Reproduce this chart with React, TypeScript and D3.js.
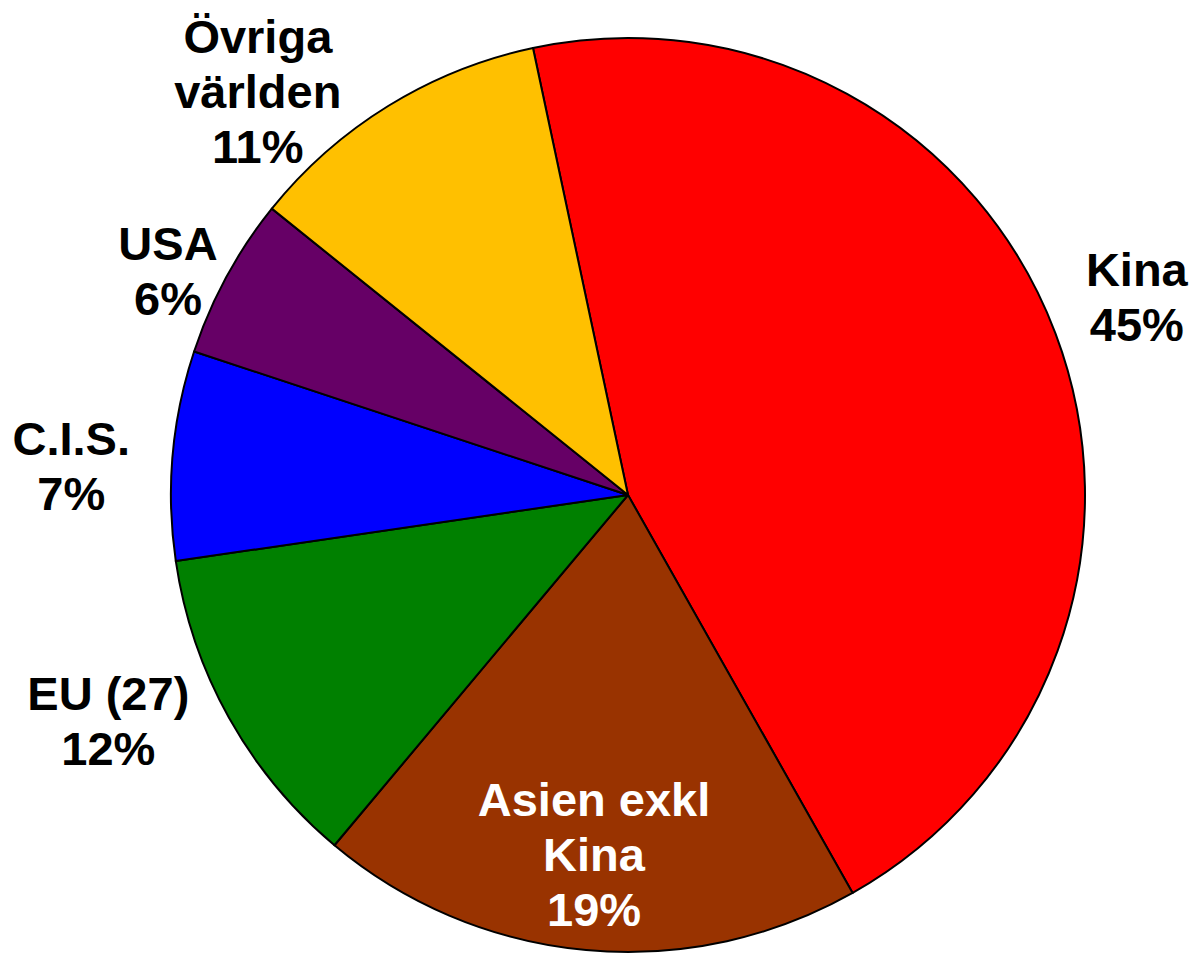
import { useEffect, useRef } from "react";
import * as d3 from "d3";

// Andelar (uppskattade från bilden), i ordning medurs från toppen
const regioner = ["Kina", "Asien exkl Kina", "EU (27)", "C.I.S.", "USA", "Övriga världen"];
const andelar = [45.2, 19.3, 11.6, 7.4, 5.7, 10.9];
const farger = ["#FF0000", "#993300", "#008000", "#0000FF", "#660066", "#FFC000"];
// Etikettrader per region
const etikettRader = [["Kina"], ["Asien exkl", "Kina"], ["EU (27)"], ["C.I.S."], ["USA"], ["Övriga", "världen"]];

// Layout för etiketter: vinkel (grader, medurs från 12) och avstånd i radier
const ETIKETT_LAYOUT = [
  { vinkel: 68.7, r: 1.195, farg: "#000" },
  { vinkel: 185.4, r: 0.79, farg: "#fff" },
  { vinkel: 246.5, r: 1.24, farg: "#000" },
  { vinkel: 273, r: 1.22, farg: "#000" },
  { vinkel: 296, r: 1.12, farg: "#000" },
  { vinkel: 317.5, r: 1.199, farg: "#000" },
];

const BREDD = 1193;
const HOJD = 954;

const App = () => {
  const svgRef = useRef<SVGSVGElement>(null);

  useEffect(() => {
    if (!svgRef.current) return;
    const svg = d3.select(svgRef.current);
    svg.selectAll("*").remove();

    const cx = 628;
    const cy = 495;
    const radie = 457;
    const start = (-12 * Math.PI) / 180;

    const data = regioner.map((namn, i) => ({ namn, varde: andelar[i], i }));
    const total = d3.sum(andelar);

    const pie = d3
      .pie<{ namn: string; varde: number; i: number }>()
      .sort(null)
      .value((d) => d.varde)
      .startAngle(start)
      .endAngle(start + 2 * Math.PI);

    const arc = d3
      .arc<d3.PieArcDatum<{ namn: string; varde: number; i: number }>>()
      .innerRadius(0)
      .outerRadius(radie);

    const g = svg.append("g").attr("transform", `translate(${cx},${cy})`);

    g.selectAll("path")
      .data(pie(data))
      .enter()
      .append("path")
      .attr("d", arc)
      .attr("fill", (d) => farger[d.data.i])
      .attr("stroke", "#000")
      .attr("stroke-width", 2)
      .attr("stroke-linejoin", "round");

    const fmt = d3.format(".0%");
    const fontSize = 47;
    const radavstand = 55;

    data.forEach((d, i) => {
      const lay = ETIKETT_LAYOUT[i];
      const a = (lay.vinkel * Math.PI) / 180;
      const x = Math.sin(a) * radie * lay.r;
      const y = -Math.cos(a) * radie * lay.r;
      const rader = [...etikettRader[i], fmt(d.varde / total)];
      const text = g
        .append("text")
        .attr("text-anchor", "middle")
        .attr("font-family", "'Liberation Sans', Arial, sans-serif")
        .attr("font-weight", "bold")
        .attr("font-size", fontSize)
        .attr("fill", lay.farg);
      const forsta = y - ((rader.length - 1) * radavstand) / 2 + fontSize * 0.36;
      rader.forEach((rad, k) => {
        text
          .append("tspan")
          .attr("x", x)
          .attr("y", forsta + k * radavstand)
          .text(rad);
      });
    });
  }, []);

  return (
    <svg
      ref={svgRef}
      width={BREDD}
      height={HOJD}
      style={{ position: "absolute", left: 0, top: 0, background: "#fff" }}
    />
  );
};

export default App;
